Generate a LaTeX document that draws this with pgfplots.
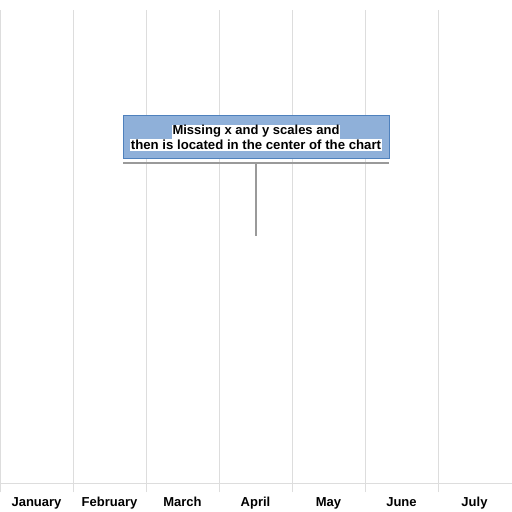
\documentclass[border=0pt]{standalone}
\usepackage{fontspec}
\setmainfont{Liberation Sans}
\usepackage{pgfplots}
\pgfplotsset{compat=1.18}
\definecolor{gridc}{HTML}{DDDDDD}
\definecolor{boxfill}{HTML}{8FB0D9}
\definecolor{boxdraw}{HTML}{4F81BD}
\definecolor{linec}{HTML}{9A9A9A}
\begin{document}
\begin{tikzpicture}[x=1pt,y=1pt]
\useasboundingbox (0,0) rectangle (512,512);
\begin{axis}[
  at={(0pt,29pt)}, anchor=south west,
  scale only axis, width=512pt, height=473pt,
  xmin=0, xmax=7.0137, ymin=0, ymax=1,
  axis x line*=bottom, axis y line=none,
  x axis line style={draw=gridc, line width=0.8pt, -},
  xtick={0.5,1.5,2.5,3.5,4.5,5.5,6.5},
  xticklabels={January,February,March,April,May,June,July},
  major tick length=0pt,
  minor xtick={0,1,2,3,4,5,6},
  minor tick length=9pt,
  tick align=outside,
  minor tick style={draw=gridc, line width=0.8pt},
  minor x grid style={draw=gridc, line width=0.8pt},
  xminorgrids=true,
  ticklabel style={font=\fontsize{13}{15}\selectfont\bfseries},
  xticklabel style={yshift=-11pt},
]
\end{axis}
% annotation callout
\draw[fill=boxfill, draw=boxdraw, line width=0.9pt] (123,354) rectangle (389,397);
\node[fill=white, inner xsep=0.5pt, inner ysep=1pt, anchor=base, font=\fontsize{13}{15}\selectfont\bfseries] at (256,377) {Missing x and y scales and};
\node[fill=white, inner xsep=0.5pt, inner ysep=1pt, anchor=base, font=\fontsize{13.2}{15}\selectfont\bfseries] at (256,362.5) {then is located in the center of the chart};
\draw[linec, line width=1.2pt] (123,349) -- (389,349);
\draw[linec, line width=1.2pt] (256,349) -- (256,276);
\end{tikzpicture}
\end{document}
